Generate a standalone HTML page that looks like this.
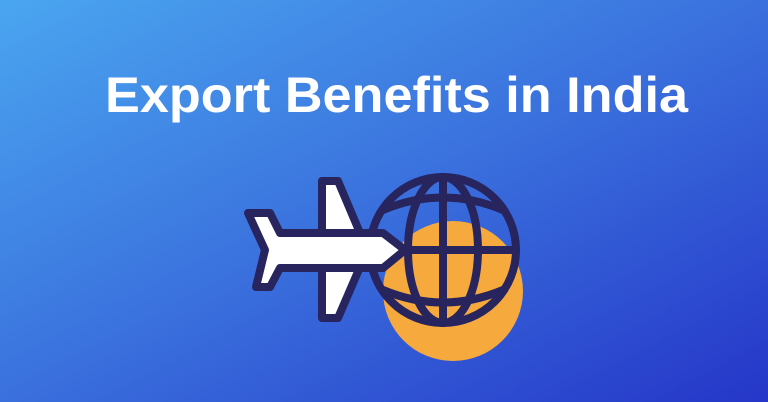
<!DOCTYPE html>
<html><head><meta charset="utf-8"><style>
html,body{margin:0;padding:0;width:768px;height:402px;overflow:hidden}
</style></head><body>
<svg width="768" height="402" viewBox="0 0 768 402">
<defs>
<linearGradient id="bg" x1="0" y1="0" x2="1" y2="1">
<stop offset="0" stop-color="#4aa6f0"/>
<stop offset="0.5" stop-color="#3a70dd"/>
<stop offset="1" stop-color="#2536c8"/>
</linearGradient>
</defs>
<rect width="768" height="402" fill="url(#bg)"/>
<text x="105" y="112" textLength="583" lengthAdjust="spacingAndGlyphs" font-family="Liberation Sans, sans-serif" font-weight="bold" font-size="50" fill="#fff">Export Benefits in India</text>
<circle cx="453" cy="291" r="70" fill="#f6a93d"/>
<g fill="none" stroke="#27245e" stroke-width="8">
<circle cx="443" cy="250" r="73"/>
<ellipse cx="443" cy="250" rx="35" ry="73"/>
<line x1="443" y1="177" x2="443" y2="323"/>
<line x1="370" y1="250" x2="516" y2="250"/>
<path d="M383 210 Q443 185 503 210"/>
<path d="M383 290 Q443 315 503 290"/>
</g>
<g stroke="#27245e" stroke-width="8" stroke-linejoin="round" fill="#fff">
<path d="M322 181 L338 181 L360 233 L322 233 Z"/>
<path d="M322 267 L360 267 L338 318 L322 318 Z"/>
<path d="M248 213 L270 213 L280 233 L383 233 L405 250 L383 268 L280 268 L270 287 L256 287 L265 250 Z"/>
</g>
</svg>
</body></html>
